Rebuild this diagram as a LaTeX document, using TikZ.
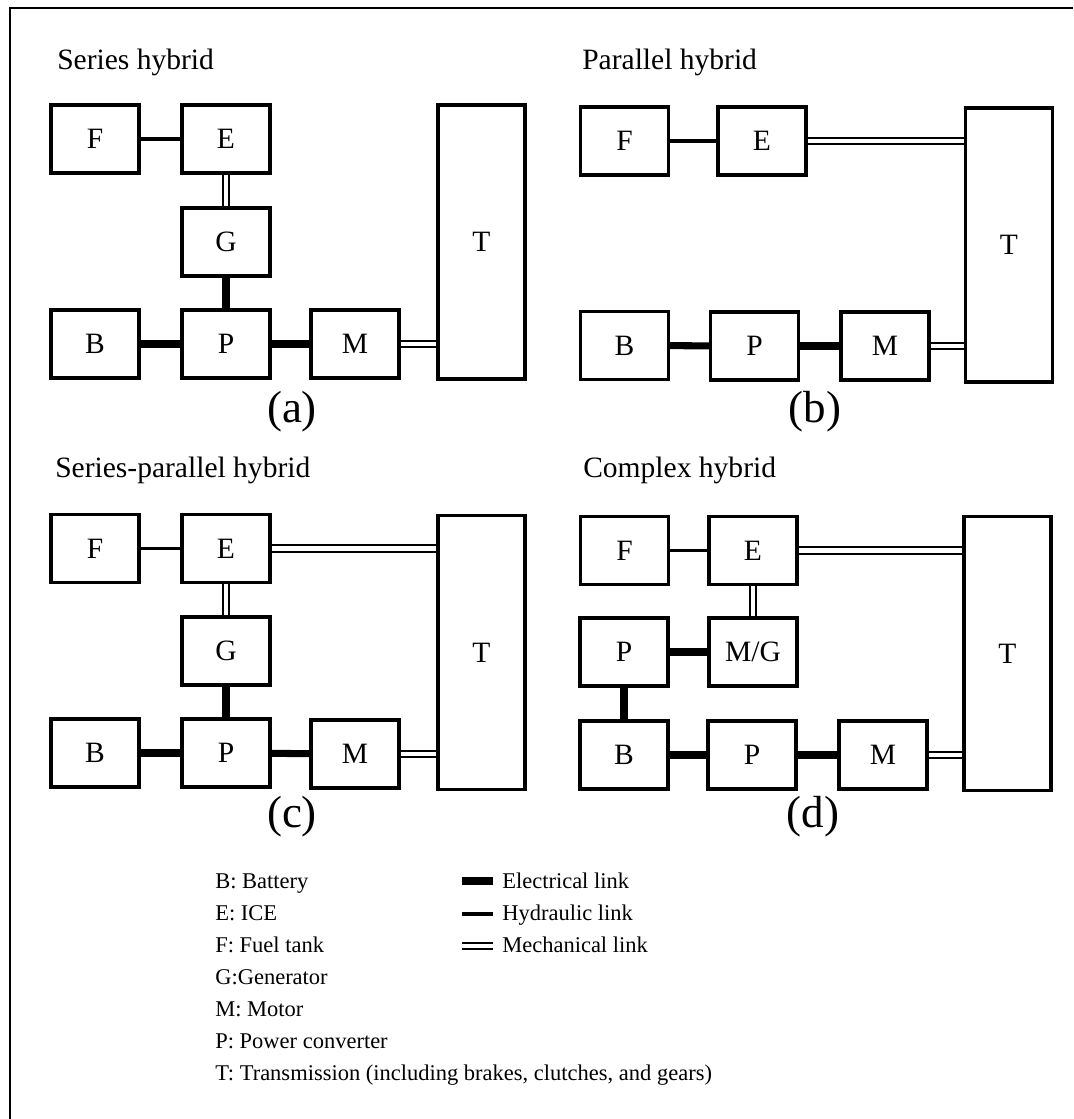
\documentclass[tikz,border=0pt]{standalone}
\usepackage{fontspec}
\setmainfont{Liberation Serif}

\begin{document}
\begin{tikzpicture}[
        x=0.025cm, y=-0.025cm,
        every node/.style={font=\fontsize{21}{25}\selectfont},
        blk/.style={
            draw,
            line width=2.2pt,
            inner sep=0pt,
            minimum width=22mm,
            minimum height=17mm
        },
        tall/.style={blk, minimum width=21.75mm, minimum height=68.5mm},
        elec/.style={line width=5pt},
        hydr/.style={line width=2.2pt},
        mech/.style={double, line width=1.6pt, double distance=3pt},
        ttl/.style={anchor=base west, inner sep=0pt, font=\fontsize{21}{25}\selectfont},
        capt/.style={font=\fontsize{32}{36}\selectfont},
        leg/.style={anchor=base west, inner sep=0pt, font=\fontsize{16}{19}\selectfont}
    ]

        \useasboundingbox (0,0) rectangle (1073,1119);

        % ramecek
        \draw[line width=1.4pt] (10,1119) -- (10,8) -- (1073,8);

        % (a) seriovy
        \node[ttl] (ta) at (57,69) {Series hybrid};
        \node[blk] (aF) at (95,139) {F};
        \node[blk] (aE) at (226,139) {E};
        \node[blk] (aG) at (226,242) {G};
        \node[blk] (aB) at (95,344) {B};
        \node[blk] (aP) at (226,344) {P};
        \node[blk] (aM) at (355,344) {M};
        \node[tall] (aT) at (481.5,242) {T};
        \node[capt] (ca) at (292,412) {(a)};

        \draw[hydr] (aF) -- (aE);
        \draw[mech] (aE) -- (aG);
        \draw[elec] (aG) -- (aP);
        \draw[elec] (aB) -- (aP);
        \draw[elec] (aP) -- (aM);
        \draw[mech] (aM.east) -- (aM.east -| aT.west);

        % (b) paralelni
        \node[ttl] (tb) at (582,69) {Parallel hybrid};
        \node[blk] (bF) at (624.5,141) {F};
        \node[blk] (bE) at (762,141) {E};
        \node[blk] (bB) at (624.5,345.5) {B};
        \node[blk] (bP) at (754.5,346) {P};
        \node[blk] (bM) at (885,346) {M};
        \node[tall] (bT) at (1009,245) {T};
        \node[capt] (cb) at (815,412) {(b)};

        \draw[hydr] (bF) -- (bE);
        \draw[mech] (bE.east) -- (bE.east -| bT.west);
        \draw[elec] (bB) -- (bP);
        \draw[elec] (bP) -- (bM);
        \draw[mech] (bM.east) -- (bM.east -| bT.west);

        % (c) seriove-paralelni
        \node[ttl] (tc) at (55,477) {Series-parallel hybrid};
        \node[blk] (cF) at (95,548.5) {F};
        \node[blk] (cE) at (226,548.5) {E};
        \node[blk] (cG) at (226,651) {G};
        \node[blk] (cB) at (95,753) {B};
        \node[blk] (cP) at (226,753) {P};
        \node[blk] (cM) at (355,754) {M};
        \node[tall] (cT) at (481.5,652.5) {T};
        \node[capt] (cc) at (292,817) {(c)};

        \draw[hydr] (cF) -- (cE);
        \draw[mech] (cE.east) -- (cE.east -| cT.west);
        \draw[mech] (cE) -- (cG);
        \draw[elec] (cG) -- (cP);
        \draw[elec] (cB) -- (cP);
        \draw[elec] (cP) -- (cM);
        \draw[mech] (cM.east) -- (cM.east -| cT.west);

        % (d) komplexni
        \node[ttl] (td) at (583,477) {Complex hybrid};
        \node[blk] (dF) at (624.5,550.5) {F};
        \node[blk] (dE) at (753,550.5) {E};
        \node[blk] (dP1) at (624,652) {P};
        \node[blk] (dMG) at (753,652) {M/G};
        \node[blk] (dB) at (624,755) {B};
        \node[blk] (dP2) at (752,755) {P};
        \node[blk] (dM) at (883,755) {M};
        \node[tall] (dT) at (1007.5,653.5) {T};
        \node[capt] (cd) at (813,817) {(d)};

        \draw[hydr] (dF) -- (dE);
        \draw[mech] (dE.east) -- (dE.east -| dT.west);
        \draw[mech] (dE) -- (dMG);
        \draw[elec] (dP1) -- (dMG);
        \draw[elec] (dP1) -- (dB);
        \draw[elec] (dB) -- (dP2);
        \draw[elec] (dP2) -- (dM);
        \draw[mech] (dM.east) -- (dM.east -| dT.west);

        % legenda
        \node[leg] (lB) at (215,888) {B: Battery};
        \node[leg] (lE) at (215,920) {E: ICE};
        \node[leg] (lF) at (215,952) {F: Fuel tank};
        \node[leg] (lG) at (215,984) {G:Generator};
        \node[leg] (lM) at (215,1016) {M: Motor};
        \node[leg] (lP) at (215,1048) {P: Power converter};
        \node[leg] (lT) at (215,1080) {T: Transmission (including brakes, clutches, and gears)};

        \node[leg] (kE) at (502,888) {Electrical link};
        \node[leg] (kH) at (502,920) {Hydraulic link};
        \node[leg] (kM) at (502,952) {Mechanical link};

        \coordinate (e1) at (462,881);
        \coordinate (e2) at (493,881);
        \coordinate (h1) at (462,914);
        \coordinate (h2) at (493,914);
        \coordinate (m1) at (462,946);
        \coordinate (m2) at (493,946);
        \draw[elec] (e1) -- (e2);
        \draw[hydr] (h1) -- (h2);
        \draw[mech] (m1) -- (m2);

    \end{tikzpicture}
\end{document}
